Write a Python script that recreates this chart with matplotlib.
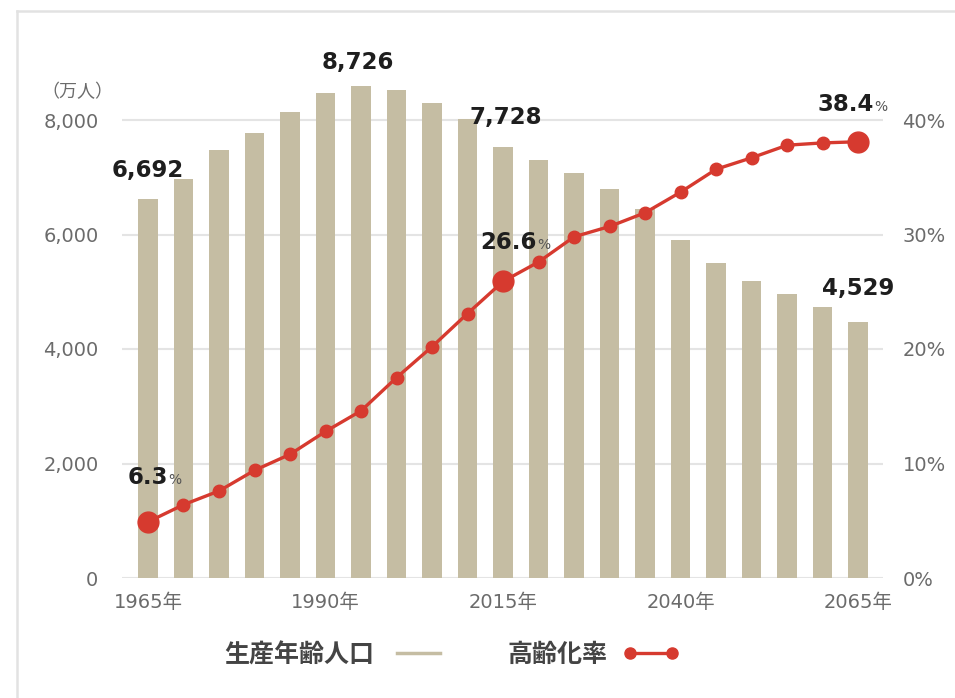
import matplotlib
matplotlib.use("Agg")
import matplotlib.pyplot as plt
from matplotlib.lines import Line2D

plt.rcParams["font.family"] = ["DejaVu Sans", "Noto Sans CJK JP"]

# data
years = [1965, 1970, 1975, 1980, 1985, 1990, 1995, 2000, 2005, 2010, 2015,
         2020, 2025, 2030, 2035, 2040, 2045, 2050, 2055, 2060, 2065]
working_pop = [6615, 6969, 7476, 7779, 8134, 8466, 8594, 8524, 8297, 8017, 7534,
               7301, 7080, 6789, 6440, 5904, 5502, 5188, 4961, 4734, 4472]
aging_rate = [4.9, 6.4, 7.6, 9.4, 10.8, 12.8, 14.6, 17.5, 20.2, 23.1, 25.9,
              27.6, 29.8, 30.7, 31.9, 33.7, 35.7, 36.7, 37.8, 38.0, 38.1]
xtick_years = [1965, 1990, 2015, 2040, 2065]
pop_labels = {1965: "6,692", 1995: "8,726", 2015: "7,728", 2065: "4,529"}
rate_labels = {1965: "6.3", 2015: "26.6", 2065: "38.4"}
big_marker_years = [1965, 2015, 2065]

BAR_COLOR = "#c5bda3"
RED = "#d63a2f"
GRID = "#e4e4e4"
TICK = "#6b6b6b"

W, H = 955, 698
fig = plt.figure(figsize=(W / 100, H / 100), dpi=100)
ax = fig.add_axes([122 / W, 120 / H, 761 / W, 515.25 / H])
ax2 = ax.twinx()

ax.bar(years, working_pop, width=2.75, color=BAR_COLOR, zorder=2)
ax.set_ylim(0, 9000)
ax.set_xlim(1961.34, 2068.5)
ax.set_yticks([0, 2000, 4000, 6000, 8000])
ax.set_yticklabels([f"{v:,}" for v in [0, 2000, 4000, 6000, 8000]])
ax.set_xticks(xtick_years)
ax.set_xticklabels([f"{y}年" for y in xtick_years])
for y in [0, 2000, 4000, 6000, 8000]:
    ax.axhline(y, color=GRID, lw=1.5, zorder=1)

ax2.plot(years, aging_rate, color=RED, lw=2.4, marker="o", ms=9, zorder=3)
big_idx = [years.index(y) for y in big_marker_years]
ax2.plot([years[i] for i in big_idx], [aging_rate[i] for i in big_idx],
         "o", color=RED, ms=15, zorder=4)
ax2.set_ylim(0, 45)
ax2.set_yticks([0, 10, 20, 30, 40])
ax2.set_yticklabels([f"{v}%" for v in [0, 10, 20, 30, 40]])

for a in (ax, ax2):
    for s in a.spines.values():
        s.set_visible(False)
ax.tick_params(axis="y", length=0, pad=17, labelsize=14, labelcolor=TICK)
ax.tick_params(axis="x", length=0, pad=11, labelsize=14, labelcolor=TICK)
ax2.tick_params(axis="y", length=0, pad=14, labelsize=14, labelcolor=TICK)

# value labels on bars
pop_offsets = {1965: (0, 21), 1995: (-2, 17), 2015: (2, 21), 2065: (0, 24)}
for yr, txt in pop_labels.items():
    v = working_pop[years.index(yr)]
    ax.annotate(txt, (yr, v), xytext=pop_offsets[yr], textcoords="offset points",
                ha="center", va="center", fontsize=16.5, fontweight="bold",
                color="#1e1e1e", zorder=6)

# value labels on the rate line, with a small % sign
rate_offsets = {1965: (0, 32), 2015: (4, 28), 2065: (-9, 27)}
for yr, txt in rate_labels.items():
    v = aging_rate[years.index(yr)]
    t = ax2.annotate(txt, (yr, v), xytext=rate_offsets[yr], textcoords="offset points",
                     ha="center", va="center", fontsize=16.5, fontweight="bold",
                     color="#1e1e1e", zorder=6)
    ax2.annotate("%", xy=(1, 0.08), xycoords=t, ha="left", va="bottom",
                 fontsize=10, color="#555555", zorder=6)

fig.text(77 / W, 1 - 92 / H, "（万人）", ha="center", va="center",
         fontsize=13, color=TICK, family=["Noto Sans CJK JP", "DejaVu Sans"])

handles = [Line2D([], [], color=BAR_COLOR, lw=2.5),
           Line2D([], [], color=RED, lw=2.4, marker="o", ms=8)]
fig.legend(handles, ["生産年齢人口", "高齢化率"], loc="center",
           bbox_to_anchor=(452 / W, 1 - 655 / H), ncol=2, frameon=False,
           markerfirst=False, numpoints=2, handlelength=2.3, handletextpad=0.6,
           columnspacing=2.4,
           prop={"family": ["Noto Sans CJK JP", "DejaVu Sans"], "weight": "bold", "size": 18},
           labelcolor="#444444")

# light frame around the chart
fig.add_artist(Line2D([17 / W, 1], [1 - 11 / H, 1 - 11 / H], transform=fig.transFigure,
                      color="#e2e2e2", lw=1.8))
fig.add_artist(Line2D([17 / W, 17 / W], [0, 1 - 11 / H], transform=fig.transFigure,
                      color="#e2e2e2", lw=1.8))

fig.savefig("out.png", dpi=100)
